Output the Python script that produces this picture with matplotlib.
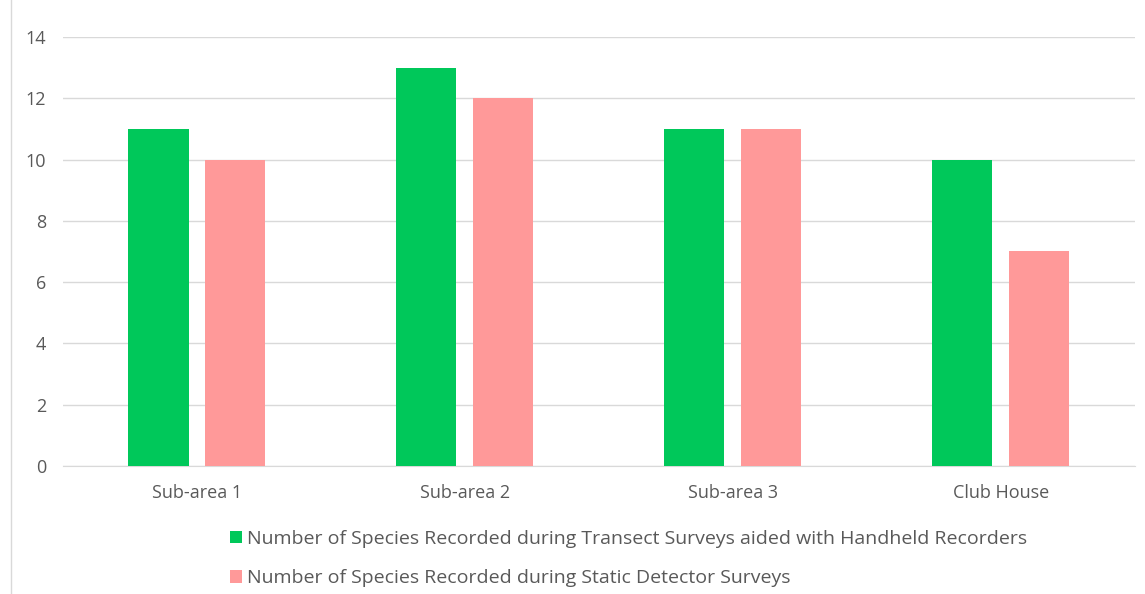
import numpy as np
import matplotlib.pyplot as plt
from matplotlib.lines import Line2D

plt.rcParams['font.family'] = ['Open Sans', 'DejaVu Sans']

areas = ["Sub-area 1", "Sub-area 2", "Sub-area 3", "Club House"]
transect = [11, 13, 11, 10]
static = [10, 12, 11, 7]
series_names = [
    "Number of Species Recorded during Transect Surveys aided with Handheld Recorders",
    "Number of Species Recorded during Static Detector Surveys",
]
green = "#00C85A"
pink = "#FF9999"
text_col = "#595959"

fig = plt.figure(figsize=(11.45, 5.94), dpi=100)
ax = fig.add_axes([0.055, 0.2155, 0.936, 0.7222])

x = np.arange(len(areas))
w = 0.224
gap = 0.063
b1 = ax.bar(x - (w + gap) / 2, transect, w, color=green, label=series_names[0], zorder=3)
b2 = ax.bar(x + (w + gap) / 2, static, w, color=pink, label=series_names[1], zorder=3)

ax.set_xlim(-0.5, len(areas) - 0.5)
ax.set_ylim(0, 14)
ax.set_yticks(range(0, 15, 2))
ax.set_xticks(x)
ax.set_xticklabels(areas)
ax.grid(axis="y", color="#d9d9d9", linewidth=1, zorder=0)
for s in ["top", "right", "left"]:
    ax.spines[s].set_visible(False)
ax.spines["bottom"].set_color("#d9d9d9")
ax.tick_params(axis="both", length=0, colors=text_col, labelsize=13)
ax.tick_params(axis="x", pad=13)
ax.tick_params(axis="y", pad=12)

leg = fig.legend(handles=[b1, b2], loc="upper left", bbox_to_anchor=(0.194, 0.121),
                 frameon=False, fontsize=14, handlelength=0.62, handleheight=0.62,
                 handletextpad=0.25, labelspacing=1.1, borderaxespad=0)
for t in leg.get_texts():
    t.set_color(text_col)

# thin frame edge on the left
fig.add_artist(Line2D([0.0096, 0.0096], [0.0, 1.0], color="#d9d9d9", linewidth=1))

fig.savefig("out.png", dpi=100)
